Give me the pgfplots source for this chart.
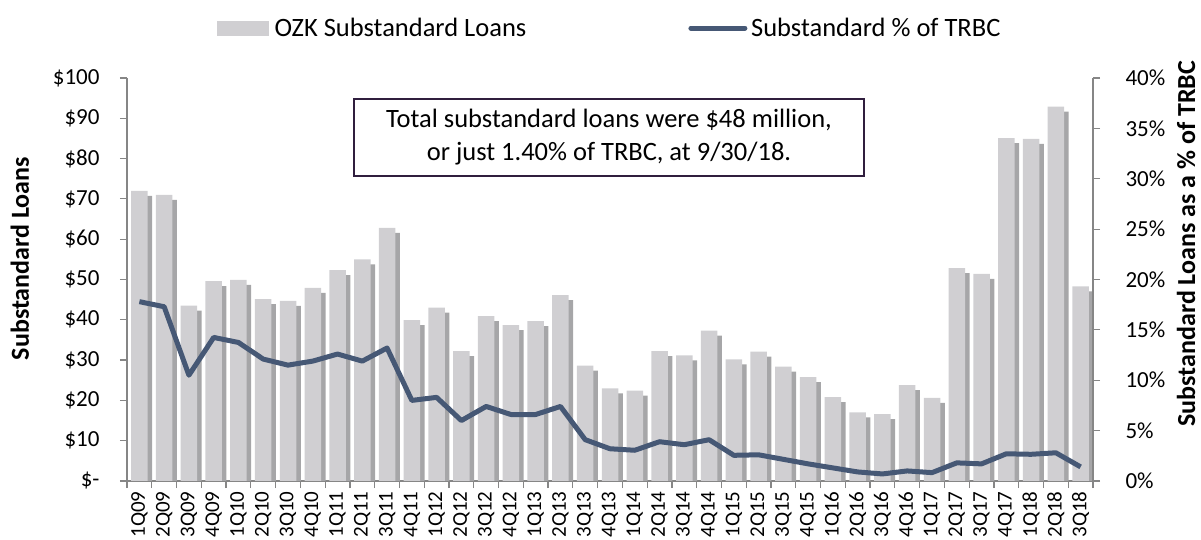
\documentclass[border=0pt]{standalone}
\usepackage{pgfplots}
\pgfplotsset{compat=1.18}
\usepackage{pgfplotstable}
\usepackage{fontspec}
\setmainfont{Carlito}
\definecolor{barfill}{RGB}{208,207,210}
\definecolor{shadowc}{RGB}{166,166,168}
\definecolor{linec}{RGB}{70,88,117}
\definecolor{axisgray}{RGB}{134,134,134}
\definecolor{boxc}{RGB}{48,30,62}

\pgfplotstableread{
x loans pct
0 72.0 17.8
1 71.0 17.3
2 43.5 10.5
3 49.6 14.25
4 49.9 13.75
5 45.1 12.1
6 44.7 11.5
7 47.9 11.9
8 52.3 12.6
9 55.0 11.9
10 62.8 13.2
11 39.9 8.0
12 43.0 8.3
13 32.2 6.0
14 40.9 7.4
15 38.7 6.6
16 39.7 6.6
17 46.1 7.4
18 28.6 4.1
19 23.0 3.2
20 22.4 3.05
21 32.2 3.9
22 31.2 3.6
23 37.3 4.1
24 30.2 2.55
25 32.1 2.6
26 28.4 2.15
27 25.8 1.7
28 20.8 1.3
29 17.0 0.9
30 16.6 0.7
31 23.8 1.0
32 20.6 0.83
33 52.8 1.8
34 51.4 1.7
35 85.1 2.7
36 84.9 2.65
37 92.9 2.8
38 48.3 1.4
}\data

\newcommand{\tickfont}{\fontsize{23bp}{27bp}\selectfont}
\newcommand{\legfont}{\fontsize{26.5bp}{30bp}\selectfont}
\newcommand{\xtickfont}{\fontsize{21bp}{25bp}\selectfont}
\newcommand{\labfont}{\fontsize{26bp}{30bp}\selectfont\bfseries}

\begin{document}
\begin{tikzpicture}
\useasboundingbox (0,0) rectangle (1201bp,540bp);
\begin{axis}[
  at={(127bp,59bp)}, anchor=south west,
  width=966bp, height=403bp, scale only axis,
  xmin=-0.5, xmax=38.5, ymin=0, ymax=100,
  axis y line*=left, axis x line*=bottom,
  axis line style={axisgray, line width=1.3bp},
  tick align=outside, major tick length=7bp, minor tick length=7bp,
  every tick/.style={axisgray, line width=1.2bp},
  ytick={0,10,...,100},
  yticklabels={\$-,\$10,\$20,\$30,\$40,\$50,\$60,\$70,\$80,\$90,\$100},
  yticklabel style={font=\tickfont, xshift=-17bp},
  xtick={0,...,38},
  xticklabels={1Q09,2Q09,3Q09,4Q09,1Q10,2Q10,3Q10,4Q10,1Q11,2Q11,3Q11,4Q11,1Q12,2Q12,3Q12,4Q12,1Q13,2Q13,3Q13,4Q13,1Q14,2Q14,3Q14,4Q14,1Q15,2Q15,3Q15,4Q15,1Q16,2Q16,3Q16,4Q16,1Q17,2Q17,3Q17,4Q17,1Q18,2Q18,3Q18},
  xticklabel style={font=\xtickfont, rotate=90, anchor=east},
  major x tick style={draw=none},
  minor xtick={-0.5,0.5,...,38.5},
  ylabel={Substandard Loans},
  ylabel style={font=\labfont, at={(axis description cs:-0.1108,0.552)}, anchor=center},
  legend columns=2,
  legend style={at={(axis description cs:0.4995,1.124)}, anchor=center, draw=none, fill=none,
    font=\legfont, /tikz/every even column/.append style={column sep=160bp}},
]
\addplot[ybar, bar width=16.5bp, bar shift=4.5bp, fill=shadowc, draw=none, yshift=-5bp, forget plot]
  table[x=x, y=loans]{\data};
\addplot[ybar, bar width=16.5bp, bar shift=0bp, fill=barfill, draw=none,
  legend image code/.code={\fill[barfill] (0bp,-7.5bp) rectangle (52bp,7.5bp); \path (56bp,0bp);}]
  table[x=x, y=loans]{\data};
\addlegendentry{OZK Substandard Loans}
\addlegendimage{legend image code/.code={\draw[linec, line width=5bp, line cap=round] (0bp,0bp) -- (54bp,0bp); \path (58bp,0bp);}}
\addlegendentry{Substandard \% of TRBC}
\end{axis}
\begin{axis}[
  at={(127bp,59bp)}, anchor=south west,
  width=966bp, height=403bp, scale only axis,
  xmin=-0.5, xmax=38.5, ymin=0, ymax=40,
  axis y line*=right, axis x line=none,
  axis line style={axisgray, line width=1.3bp},
  tick align=outside, major tick length=7bp,
  every tick/.style={axisgray, line width=1.2bp},
  ytick={0,5,...,40},
  yticklabels={0\%,5\%,10\%,15\%,20\%,25\%,30\%,35\%,40\%},
  yticklabel style={font=\tickfont, xshift=22bp},
  ylabel={Substandard Loans as a \% of TRBC},
  ylabel style={font=\labfont, at={(axis description cs:1.0963,0.589)}, anchor=center},
]
\addplot[linec, line width=5bp, line join=round, mark=none]
  table[x=x, y=pct]{\data};
\end{axis}
\node[draw=boxc, line width=1.6bp, fill=white, minimum width=510bp, minimum height=77bp,
  align=center, font=\fontsize{26.5bp}{33bp}\selectfont, inner sep=0pt] at (609bp,402.5bp)
  {Total substandard loans were \$48 million,\\or just 1.40\% of TRBC, at 9/30/18.};
\end{tikzpicture}
\end{document}
